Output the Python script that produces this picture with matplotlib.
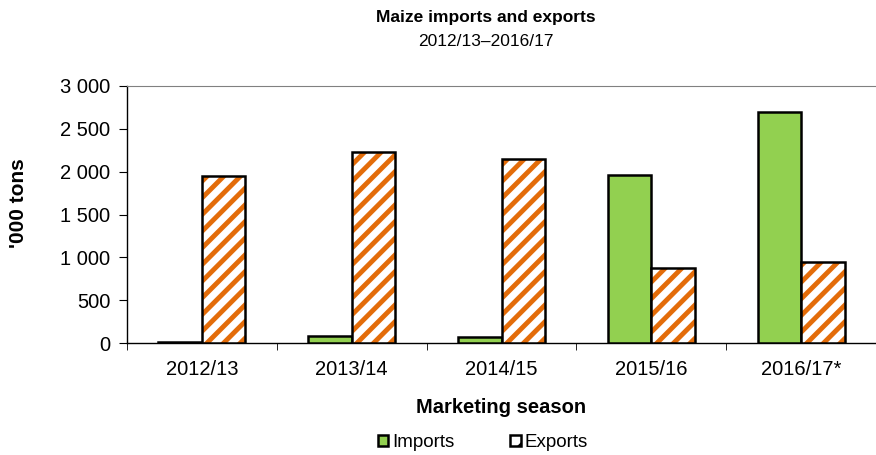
import numpy as np
import matplotlib
matplotlib.use('Agg')
from matplotlib import pyplot as plt
from matplotlib.patches import Patch
from matplotlib.ticker import FuncFormatter

plt.rcParams['font.family'] = ['Liberation Sans', 'DejaVu Sans']
plt.rcParams['hatch.linewidth'] = 3.5

seasons = ['2012/13', '2013/14', '2014/15', '2015/16', '2016/17*']
imports = [10, 85, 70, 1960, 2700]
exports = [1950, 2230, 2150, 880, 945]

green = '#92D050'
orange = '#E36C09'

fig = plt.figure(figsize=(8.76, 4.55), dpi=100)
ax = fig.add_axes([0.145, 0.246, 0.855, 0.565])

x = np.arange(len(seasons))
w = 0.29
ax.bar(x - w / 2, imports, w, color=green, edgecolor='black', linewidth=1.8, zorder=3)
# hatched exports: stripes first, then black outline on top
ax.bar(x + w / 2, exports, w, color='white', edgecolor=orange, hatch='//', linewidth=0, zorder=3)
ax.bar(x + w / 2, exports, w, fill=False, edgecolor='black', linewidth=1.8, zorder=4)

ax.set_ylim(0, 3000)
ax.set_yticks(np.arange(0, 3001, 500))
ax.yaxis.set_major_formatter(FuncFormatter(lambda v, p: '{:,.0f}'.format(v).replace(',', ' ')))
ax.set_xlim(-0.5, (876 - 127) / 151.7 - 0.5)
ax.set_xticks(x)
ax.set_xticklabels(seasons)
ax.set_xticks(np.arange(-0.5, len(seasons), 1.0), minor=True)
ax.tick_params(axis='x', which='major', length=0, pad=12, labelsize=14.5)
ax.tick_params(axis='x', which='minor', length=5, direction='out')
ax.tick_params(axis='y', length=6, direction='out', labelsize=14.5, pad=6)

ax.spines['right'].set_visible(False)
ax.spines['top'].set_color('#808080')
ax.spines['left'].set_linewidth(1.0)
ax.spines['bottom'].set_linewidth(1.0)

ax.set_ylabel("'000 tons", fontsize=15, fontweight='bold')
ax.yaxis.set_label_coords(-0.132, 0.545)
ax.set_xlabel('Marketing season', fontsize=14.5, fontweight='bold', labelpad=14)

fig.text(0.555, 0.962, 'Maize imports and exports', ha='center', va='center', fontsize=12.5, fontweight='bold')
fig.text(0.555, 0.908, '2012/13\u20132016/17', ha='center', va='center', fontsize=12.5)

handles = [Patch(facecolor=green, edgecolor='black', linewidth=1.8, label='Imports'),
           Patch(facecolor='white', edgecolor=orange, hatch='/', linewidth=1.8, label='Exports')]
leg = fig.legend(handles=handles, loc='center', bbox_to_anchor=(0.551, 0.027), ncol=2, frameon=False,
                 fontsize=13.5, handlelength=0.55, handleheight=0.55, handletextpad=0.2, columnspacing=3.0)
for p in leg.get_patches():
    p.set_edgecolor('black')

fig.savefig('out.png', dpi=100)
